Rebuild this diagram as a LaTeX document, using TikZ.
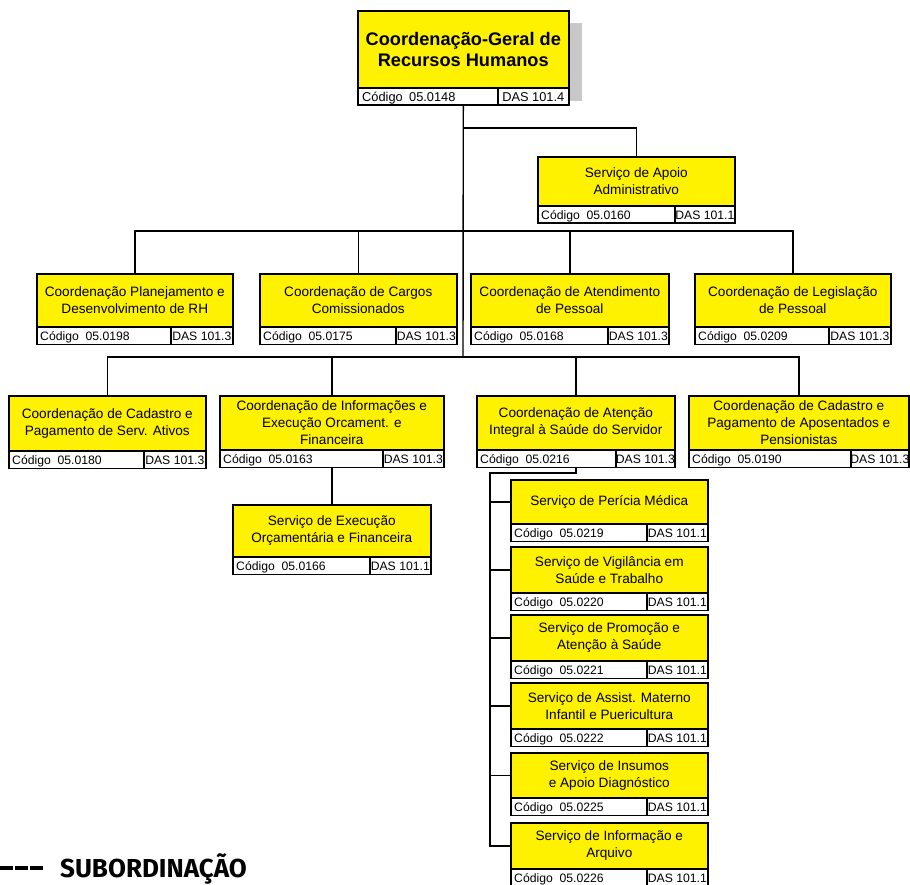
\documentclass[tikz,border=0pt]{standalone}
\usepackage{fontspec}
\setmainfont{Liberation Sans}
\newfontfamily\legendfont{Fira Sans}
\definecolor{boxyellow}{RGB}{255,242,0}
\definecolor{shadowgray}{RGB}{200,200,200}
\tikzset{
  ybox/.style={draw=black, line width=1.6pt, fill=boxyellow, inner sep=1pt, align=center,
    font=\fontsize{13.6}{16.8}\selectfont},
  cbox/.style={draw=black, line width=1.6pt, fill=white, inner sep=0pt, minimum height=17.5pt},
  ctext/.style={inner sep=0pt, font=\fontsize{12.2}{14}\selectfont},
  conn/.style={draw=black, line width=1.4pt},
}
\newcommand\orgbox[9]{%
  \pgfmathsetmacro\bw{#4-#2}\pgfmathsetmacro\bh{#5-#3}%
  \pgfmathsetmacro\cw{#6-#2}\pgfmathsetmacro\dw{#4-#6}%
  \node[ybox, minimum width=\bw pt, minimum height=\bh pt, anchor=north west] (#1) at (#2,#3) {#7};
  \node[cbox, minimum width=\cw pt, anchor=north west] (#1c) at (#2,#5) {};
  \node[ctext, anchor=base west] (#1ct) at ([xshift=4pt,yshift=4.6pt]#1c.south west) {Código\hspace{0.55em}#8};
  \node[cbox, minimum width=\dw pt, anchor=north west] (#1d) at (#6,#5) {};
  \node[ctext, anchor=base] (#1dt) at ([yshift=4.6pt]#1d.south) {DAS #9};
}
\begin{document}
\begin{tikzpicture}[x=1pt, y=-1pt]
\useasboundingbox (0,0) rectangle (910,885);
% shadow of the top box
\fill[shadowgray] (560,23) rectangle (582,101);
% top box
\node[ybox, minimum width=211pt, minimum height=77pt, anchor=north west,
  font=\bfseries\fontsize{18.2}{21}\selectfont] (top) at (357,10) {Coordenação-Geral de\\Recursos Humanos};
\node[cbox, minimum width=140pt, anchor=north west] (topc) at (357,87) {};
\node[ctext, anchor=base west, font=\fontsize{12.8}{15}\selectfont] (topct) at ([xshift=5pt,yshift=4.2pt]topc.south west) {Código\hspace{0.5em}05.0148};
\node[cbox, minimum width=71pt, anchor=north west] (topd) at (497,87) {};
\node[ctext, anchor=base, font=\fontsize{12.8}{15}\selectfont] (topdt) at ([yshift=4.2pt]topd.south) {DAS 101.4};

\orgbox{apoio}{537}{156}{734}{205}{674}{Serviço de Apoio\\Administrativo}{05.0160}{101.1}

\orgbox{ra}{36}{273}{232}{326}{170}{Coordenação Planejamento e\\Desenvolvimento de RH}{05.0198}{101.3}
\orgbox{rb}{259}{273}{456}{326}{395}{Coordenação de Cargos\\Comissionados}{05.0175}{101.3}
\orgbox{rc}{470}{273}{668}{326}{607}{Coordenação de Atendimento\\de Pessoal}{05.0168}{101.3}
\orgbox{rd}{694}{273}{890}{326}{828}{Coordenação de Legislação\\de Pessoal}{05.0209}{101.3}

\orgbox{qa}{8}{395}{205}{450}{143}{Coordenação de Cadastro e\\Pagamento de Serv. Ativos}{05.0180}{101.3}
\orgbox{qb}{219}{395}{443}{449}{382}{Coordenação de Informações e\\Execução Orcament. e\\Financeira}{05.0163}{101.3}
\orgbox{qc}{476}{395}{674}{449}{615}{Coordenação de Atenção\\Integral à Saúde do Servidor}{05.0216}{101.3}
\orgbox{qd}{688}{395}{908}{449}{850}{Coordenação de Cadastro e\\Pagamento de Aposentados e\\Pensionistas}{05.0190}{101.3}

\orgbox{ex}{232}{504}{430}{556}{369}{Serviço de Execução\\Orçamentária e Financeira}{05.0166}{101.1}

\orgbox{sa}{510}{479}{707}{523}{646}{Serviço de Perícia Médica}{05.0219}{101.1}
\orgbox{sb}{510}{546}{707}{592}{646}{Serviço de Vigilância em\\Saúde e Trabalho}{05.0220}{101.1}
\orgbox{sc}{510}{614}{707}{660}{646}{Serviço de Promoção e\\Atenção à Saúde}{05.0221}{101.1}
\orgbox{sd}{510}{682}{707}{728}{646}{Serviço de Assist. Materno\\Infantil e Puericultura}{05.0222}{101.1}
\orgbox{se}{510}{752}{707}{797}{646}{Serviço de Insumos\\e Apoio Diagnóstico}{05.0225}{101.1}
\orgbox{sf}{510}{822}{707}{868}{646}{Serviço de Informação e\\Arquivo}{05.0226}{101.1}

% connectors
\coordinate (j0) at (463,128);
\coordinate (j1) at (463,231);
\coordinate (j2) at (463,357);
\coordinate (j3) at (490,473);
\draw[conn] (top |- topc.south) -- (j2);
\draw[conn] (j0) -| (apoio.north);
\draw[conn] (ra.north) |- (j1) -| (rd.north);
\draw[conn] (rb.north) -- (rb.north |- j1);
\draw[conn] (rc.north) -- (rc.north |- j1);
\draw[conn] (qa.north) |- (j2) -| (qd.north);
\draw[conn] (qb.north) -- (qb.north |- j2);
\draw[conn] (qc.north) -- (qc.north |- j2);
\draw[conn] (qb |- qbc.south) -- (ex.north);
\draw[conn] (qc |- qcc.south) |- (j3) -- (j3 |- sf.west) -- (sf.west);
\foreach \s in {sa,sb,sc,sd,se} \draw[conn] (j3 |- \s.west) -- (\s.west);

% legend
\draw[line width=3.6pt, dash pattern=on 13pt off 2.2pt] (0,868) -- (44,868);
\node[anchor=base west, inner sep=0pt, font=\legendfont\bfseries\fontsize{26}{29}\selectfont] (legend) at (60,877.5) {SUBORDINAÇÃO};
\end{tikzpicture}
\end{document}
